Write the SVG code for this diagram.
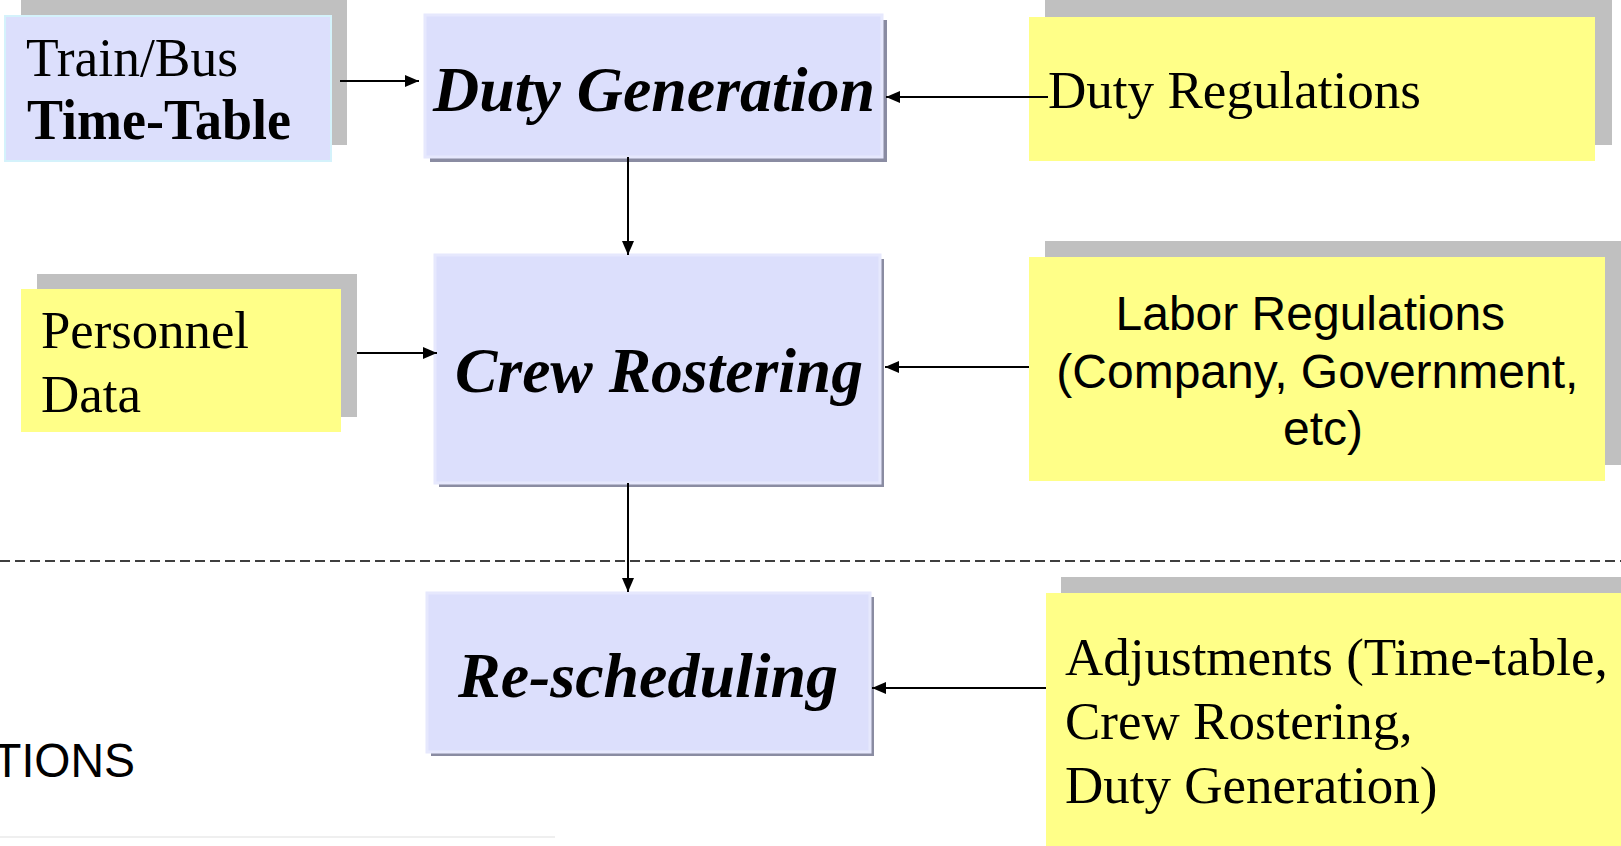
<svg xmlns="http://www.w3.org/2000/svg" width="1621" height="846" viewBox="0 0 1621 846">
  <style>
    .shadow-grey { fill: #c0c0c0; }
    .shadow-dark { fill: #8a8ca2; }
    .proc { fill: #dcdffc; stroke: #e6e8fd; stroke-width: 3; }
    .input-blue { fill: #dcdffc; stroke: #d4f2fb; stroke-width: 2; }
    .note { fill: #ffff88; }
    .serif { font-family: "Liberation Serif", "Times New Roman", serif; fill: #000; }
    .sans { font-family: "Liberation Sans", Arial, sans-serif; fill: #000; }
    .title { font-weight: bold; font-style: italic; font-size: 63px; }
    .body { font-size: 53px; }
    .conn { stroke: #000; stroke-width: 2; fill: none; marker-end: url(#arrow); }
  </style>
  <defs>
    <marker id="arrow" markerUnits="userSpaceOnUse" markerWidth="14" markerHeight="12" refX="14" refY="6" orient="auto">
      <path d="M0,0 L14,6 L0,12 Z" fill="#000"/>
    </marker>
  </defs>

  <rect width="1621" height="846" fill="#ffffff"/>

  <!-- separator between planning and operations -->
  <line x1="0" y1="561" x2="1621" y2="561" stroke="#000" stroke-width="1.5" stroke-dasharray="10 5"/>

  <!-- faint footer edge -->
  <line x1="0" y1="837" x2="555" y2="837" stroke="#efefef" stroke-width="2"/>

  <text class="sans" x="-7" y="777" font-size="48" textLength="142" lengthAdjust="spacingAndGlyphs">TIONS</text>

  <g id="timetable">
    <rect class="shadow-grey" x="21" y="0" width="326" height="145"/>
    <rect class="input-blue" x="5" y="16" width="326" height="145"/>
    <text class="serif" x="26" y="76" font-size="55" textLength="212" lengthAdjust="spacingAndGlyphs">Train/Bus</text>
    <text class="serif" x="27" y="139" font-size="56" font-weight="bold" textLength="264" lengthAdjust="spacingAndGlyphs">Time-Table</text>
  </g>

  <g id="duty-generation">
    <rect class="shadow-dark" x="430" y="20" width="457" height="142"/>
    <rect class="proc" x="425" y="15" width="457" height="142"/>
    <text class="serif title" x="433" y="111" textLength="442" lengthAdjust="spacingAndGlyphs">Duty Generation</text>
  </g>

  <g id="duty-regulations">
    <rect class="shadow-grey" x="1045" y="0" width="567" height="145"/>
    <rect class="note" x="1029" y="17" width="566" height="144"/>
    <text class="serif body" x="1048" y="108" textLength="373" lengthAdjust="spacingAndGlyphs">Duty Regulations</text>
  </g>

  <g id="personnel-data">
    <rect class="shadow-grey" x="37" y="274" width="320" height="143"/>
    <rect class="note" x="21" y="289" width="320" height="143"/>
    <text class="serif body" x="41" y="348" textLength="208" lengthAdjust="spacingAndGlyphs">Personnel</text>
    <text class="serif body" x="41" y="412">Data</text>
  </g>

  <g id="crew-rostering">
    <rect class="shadow-dark" x="439" y="259" width="445" height="228"/>
    <rect class="proc" x="435" y="255" width="445" height="228"/>
    <text class="serif title" x="455" y="392" textLength="408" lengthAdjust="spacingAndGlyphs">Crew Rostering</text>
  </g>

  <g id="labor-regulations">
    <rect class="shadow-grey" x="1045" y="241" width="576" height="224"/>
    <rect class="note" x="1029" y="257" width="576" height="224"/>
    <text class="sans" font-size="48" text-anchor="middle">
      <tspan x="1317" y="330">Labor Regulations</tspan>
      <tspan x="1324" y="388">(Company, Government,</tspan>
      <tspan x="1323" y="445">etc)</tspan>
    </text>
  </g>

  <g id="rescheduling">
    <rect class="shadow-dark" x="431" y="597" width="443" height="159"/>
    <rect class="proc" x="427" y="593" width="443" height="159"/>
    <text class="serif title" x="458" y="697" textLength="380" lengthAdjust="spacingAndGlyphs">Re-scheduling</text>
  </g>

  <g id="adjustments">
    <rect class="shadow-grey" x="1061" y="577" width="560" height="269"/>
    <rect class="note" x="1046" y="593" width="575" height="253"/>
    <text class="serif body">
      <tspan x="1065" y="675">Adjustments (Time-table,</tspan>
      <tspan x="1065" y="739">Crew Rostering,</tspan>
      <tspan x="1065" y="803">Duty Generation)</tspan>
    </text>
  </g>

  <g id="connectors">
    <path class="conn" d="M340,81 H419"/>
    <path class="conn" d="M1048,97 H886"/>
    <path class="conn" d="M628,157 V255"/>
    <path class="conn" d="M357,353 H437"/>
    <path class="conn" d="M1029,367 H885"/>
    <path class="conn" d="M628,483 V592"/>
    <path class="conn" d="M1046,688 H872"/>
  </g>
</svg>
